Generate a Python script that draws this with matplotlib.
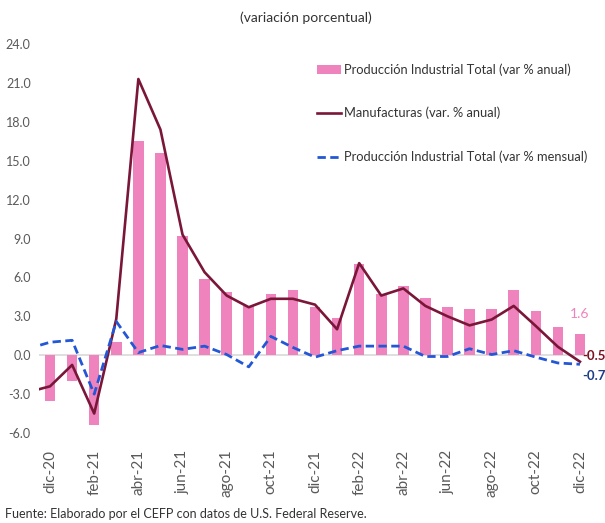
import numpy as np
import matplotlib
matplotlib.use("Agg")
import matplotlib.pyplot as plt

plt.rcParams['font.family'] = ['Lato', 'DejaVu Sans']

# months (nov-20 only feeds the lines, it is clipped at the left edge)
meses = ['nov-20', 'dic-20', 'ene-21', 'feb-21', 'mar-21', 'abr-21', 'may-21', 'jun-21',
         'jul-21', 'ago-21', 'sep-21', 'oct-21', 'nov-21', 'dic-21', 'ene-22',
         'feb-22', 'mar-22', 'abr-22', 'may-22', 'jun-22', 'jul-22', 'ago-22',
         'sep-22', 'oct-22', 'nov-22', 'dic-22']
prod_anual = [np.nan, -3.5, -2.0, -5.4, 1.0, 16.5, 15.6, 9.2, 5.9, 4.9, 3.8, 4.7, 5.0, 3.7, 2.9,
              7.0, 4.7, 5.3, 4.4, 3.7, 3.6, 3.6, 5.0, 3.4, 2.2, 1.6]
manuf_anual = [-2.85, -2.4, -0.75, -4.5, 2.8, 21.3, 17.4, 9.3, 6.4, 4.6, 3.7, 4.35, 4.35, 3.9, 2.0,
               7.1, 4.6, 5.15, 3.8, 3.0, 2.3, 2.75, 3.8, 2.25, 0.65, -0.5]
prod_mensual = [0.5, 1.0, 1.15, -3.0, 2.6, 0.2, 0.75, 0.45, 0.7, 0.05, -0.9, 1.45, 0.6, -0.15, 0.35,
                0.7, 0.7, 0.7, -0.1, -0.1, 0.5, 0.05, 0.35, -0.15, -0.6, -0.7]
y_ticks = np.arange(-6, 25, 3)

x = np.arange(len(meses)) - 1  # dic-20 at 0

fig = plt.figure(figsize=(6.05, 5.23), dpi=100)
ax = fig.add_axes([39/605, 1 - 433/523, 552/605, 389/523])

ax.axhline(0, color='#d9d9d9', linewidth=1.2, zorder=1)
b = ax.bar(x, prod_anual, width=0.48, color='#ef83bd', zorder=2,
           label='Producción Industrial Total (var % anual)')
l1, = ax.plot(x, manuf_anual, color='#7a1738', linewidth=1.9, zorder=3,
              label='Manufacturas (var. % anual)')
l2, = ax.plot(x, prod_mensual, color='#2457d6', linewidth=2, linestyle=(0, (3, 1.6)), zorder=3,
              label='Producción Industrial Total (var % mensual)')

ax.set_xlim(-0.5, 24.5)
ax.set_ylim(-6, 24)
ax.set_yticks(y_ticks)
ax.set_yticklabels([f'{v:.1f}' for v in y_ticks])
ax.set_xticks(x[1::2])
ax.set_xticklabels(meses[1::2], rotation=90)
ax.tick_params(axis='both', length=0, colors='#595959', labelsize=9)
ax.tick_params(axis='y', pad=6)
ax.tick_params(axis='x', pad=12, labelsize=11)
for s in ax.spines.values():
    s.set_visible(False)

# end labels
ax.text(x[-1], prod_anual[-1] + 1.1, f'{prod_anual[-1]:.1f}', color='#ef83bd',
        ha='center', va='bottom', fontsize=10)
ax.text(x[-1] + 0.12, manuf_anual[-1] + 0.4, f'{manuf_anual[-1]:.1f}', color='#7a1020',
        ha='left', va='center', fontsize=9.5, fontweight='bold', clip_on=False)
ax.text(x[-1] + 0.12, prod_mensual[-1] - 0.9, f'{prod_mensual[-1]:.1f}', color='#1f3c88',
        ha='left', va='center', fontsize=9.5, fontweight='bold', clip_on=False)

ax.legend(handles=[b, l1, l2], loc='upper left', bbox_to_anchor=(0.482, 0.98),
          frameon=False, fontsize=9.3, labelspacing=2.4, handlelength=1.9,
          handletextpad=0.2, labelcolor='#333333')

fig.text(0.505, 0.967, '(variación porcentual)', ha='center', va='center',
         fontsize=10, color='#333333')
fig.text(0.008, 0.018, 'Fuente: Elaborado por el CEFP con datos de U.S. Federal Reserve.',
         ha='left', va='center', fontsize=9, color='#333333')

fig.savefig('out.png', dpi=100)
